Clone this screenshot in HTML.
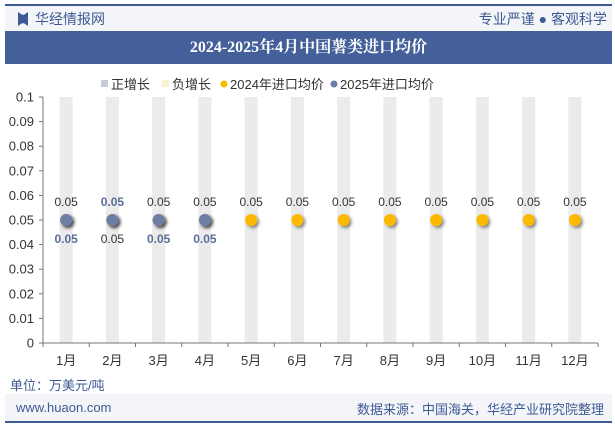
<!DOCTYPE html>
<html><head><meta charset="utf-8"><style>
body{margin:0;width:615px;height:427px;background:#fff;font-family:"Liberation Sans","Noto Sans CJK SC",sans-serif;overflow:hidden;position:relative}
.abs{position:absolute}
</style></head><body>
<div class="abs" style="left:5px;top:4px;width:607px;height:2px;background:#3d5a94"></div>
<div class="abs" style="left:5px;top:6px;width:607px;height:25px;background:#f3f5f9"></div>
<div class="abs" style="left:18px;top:12px;width:10px;height:14px;background:#3d5a94;clip-path:polygon(0 0,40% 20%,60% 20%,100% 0,100% 100%,60% 80%,40% 80%,0 100%)"></div>
<div class="abs" style="left:35px;top:9px;font-size:14px;color:#3d5a94">华经情报网</div>
<div class="abs" style="right:8px;top:9px;font-size:14px;color:#3d5a94">专业严谨 ● 客观科学</div>
<div class="abs" style="left:5px;top:31px;width:607px;height:33px;line-height:33px;text-align:center;color:#fff;font-weight:bold;font-size:16px;background:#44609a;font-family:'Liberation Serif','Noto Serif CJK SC',serif">2024-2025年4月中国薯类进口均价</div>
<svg class="abs" style="left:0;top:0" width="615" height="427" id="chart"></svg>
<div class="abs" style="left:10px;top:375px;font-size:13px;color:#3d5a94">单位：万美元/吨</div>
<div class="abs" style="left:5px;top:394px;width:607px;height:27px;background:#f3f5f9"></div>
<div class="abs" style="left:16px;top:400px;font-size:13px;color:#3d5a94">www.huaon.com</div>
<div class="abs" style="right:11px;top:399px;font-size:13px;color:#3d5a94">数据来源：中国海关，华经产业研究院整理</div>
<div class="abs" style="left:5px;top:421px;width:607px;height:2px;background:#3d5a94"></div>
<script>
const categories=["1月","2月","3月","4月","5月","6月","7月","8月","9月","10月","11月","12月"];
const values2024=[0.05,0.05,0.05,0.05,0.05,0.05,0.05,0.05,0.05,0.05,0.05,0.05];
const values2025=[0.05,0.05,0.05,0.05];
const yTicks=[0,0.01,0.02,0.03,0.04,0.05,0.06,0.07,0.08,0.09,0.1];
const yTickLabels=["0","0.01","0.02","0.03","0.04","0.05","0.06","0.07","0.08","0.09","0.1"];
const yMax=0.1;
const svg=document.getElementById('chart');const NS='http://www.w3.org/2000/svg';
const L=43,R=598,T=97,B=343;
const bw=(R-L)/categories.length;
const x=i=>L+bw*(i+0.5);
const y=v=>B-(v/yMax)*(B-T);
function mk(t,a,txt){const e=document.createElementNS(NS,t);for(const k in a)e.setAttribute(k,a[k]);if(txt!=null)e.textContent=txt;svg.appendChild(e);return e;}
const lg=[["正增长","rect","#c8ccd6"],["负增长","rect","#fbf2d6"],["2024年进口均价","circ","#fbb900"],["2025年进口均价","circ","#6a7ea6"]];
const lx=[101,162,220,330];
lg.forEach((d,i)=>{let m;
if(d[1]=="rect")m=mk('rect',{x:lx[i],y:80,width:7,height:7,fill:d[2]});else m=mk('circle',{cx:lx[i]+4,cy:84,r:3.5,fill:d[2]});


const t=mk('text',{x:lx[i]+10,y:89,'font-size':13,fill:'#333'},d[0]);

});
categories.forEach((c,i)=>{const r=mk('rect',{x:x(i)-6.5,y:y(yMax),width:13,height:B-y(yMax),fill:'#ebebeb'});

});
const ya=mk('line',{x1:L,y1:T,x2:L,y2:B,stroke:'#777'});


yTicks.forEach((v,i)=>{mk('line',{x1:L-4,y1:y(v),x2:L,y2:y(v),stroke:'#777'});
const t=mk('text',{x:L-9,y:y(v)+4.5,'font-size':13,fill:'#333','text-anchor':'end'},yTickLabels[i]);

});
const xa=mk('line',{x1:L,y1:B,x2:R,y2:B,stroke:'#777'});


for(let i=0;i<=categories.length;i++)mk('line',{x1:L+bw*i,y1:B,x2:L+bw*i,y2:B+4,stroke:'#777'});
categories.forEach((c,i)=>{const t=mk('text',{x:x(i),y:B+22,'font-size':13,fill:'#333','text-anchor':'middle'},c);

});
const defs=mk('defs',{});defs.innerHTML='<filter id="sh" x="-50%" y="-50%" width="200%" height="200%"><feDropShadow dx="2" dy="2" stdDeviation="1.5" flood-color="#000" flood-opacity="0.45"/></filter>';
values2024.forEach((v,i)=>{const c=mk('circle',{cx:x(i),cy:y(v),r:6,fill:'#fbb900',filter:'url(#sh)'});


const t=mk('text',{x:x(i),y:i==1?y(v)+23:y(v)-14,'font-size':12,fill:'#333','text-anchor':'middle'},v.toFixed(2));

});
values2025.forEach((v,i)=>{const c=mk('circle',{cx:x(i),cy:y(v),r:6,fill:'#6a7ea6',filter:'url(#sh)'});


const t=mk('text',{x:x(i),y:i==1?y(v)-14:y(v)+23,'font-size':12,'font-weight':'bold',fill:'#5a6e98','text-anchor':'middle'},v.toFixed(2));

});
</script>
</body></html>
